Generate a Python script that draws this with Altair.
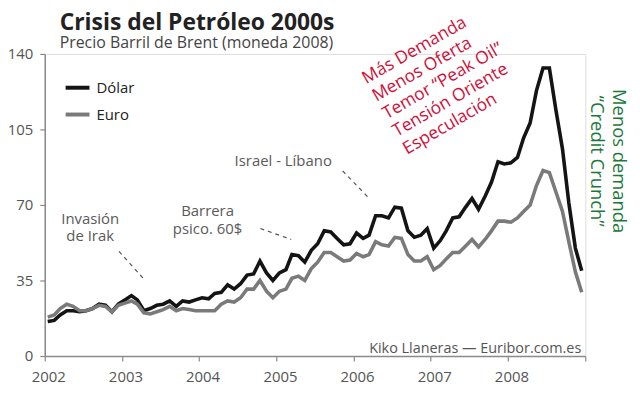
import altair as alt
import pandas as pd

FONT = "Open Sans"

title_text = ["Crisis del Petróleo 2000s"]
subtitle_text = ["Precio Barril de Brent (moneda 2008)"]

years = list(range(2002, 2009))
dolar = [
    16, 16.5, 19, 21, 21, 20.5, 21, 22, 24, 23.5, 20.5, 24,
    26, 28, 26, 21, 22, 23.5, 24, 25.5, 23, 25.5, 25, 26,
    27, 26.5, 29, 29.5, 33, 31, 33.5, 37.5, 38, 44, 38.5, 35,
    38.5, 40, 47, 46.5, 43.5, 49, 52, 58, 57.5, 54.5, 51.5, 52,
    57, 54.5, 56, 65, 65, 64, 69, 68.5, 58, 55, 56, 59,
    50, 53.5, 58, 64, 64.5, 69, 73, 68, 74, 80.5, 90, 89,
    89.5, 92, 101, 108, 123, 133.5, 133.5, 114, 96, 71, 50, 39.5,
]
euro = [
    18, 19, 22, 24, 23, 21, 21, 22, 23.5, 23, 20.5, 23.5,
    24.5, 25.5, 24, 20, 19.5, 20.5, 21.5, 23, 21, 22, 21.5, 21,
    21, 21, 21, 24, 25.5, 25, 27, 31, 31, 35, 30, 27,
    30, 31, 36, 37, 35, 40.5, 43.5, 48, 48, 46, 44, 44.5,
    47.5, 46, 47, 53, 51.5, 51, 55, 54.5, 47, 44, 44, 46,
    40, 42, 45, 48, 48, 51, 54, 50.5, 54, 58, 62.5, 62.5,
    62, 64, 67, 70, 79, 86, 85, 76, 67, 53, 39, 29.5,
]
series_names = ["Dólar", "Euro"]
series_colors = ["#141414", "#7a7a7a"]

dates = [f"{y}-{m:02d}-15" for y in years for m in range(1, 13)]
df = pd.DataFrame({
    "fecha": dates * 2,
    "precio": dolar + euro,
    "serie": [series_names[0]] * len(dolar) + [series_names[1]] * len(euro),
})

tick_dates = [f"{y}-{m:02d}-01" for y in range(2002, 2009) for m in (1, 4, 7, 10)] + ["2009-01-01"]
y_ticks = [0, 35, 70, 105, 140]

# annotations (grey)
notes = pd.DataFrame({
    "fecha": ["2002-08-04", "2004-02-10", "2005-02-02"],
    "precio": [61.3, 64.8, 88.2],
    "texto": [["Invasión", "de Irak"], ["Barrera", "psico. 60$"], ["Israel - Líbano"]],
})
dashes = pd.DataFrame({
    "f1": ["2002-12-18", "2004-10-17", "2005-11-10"],
    "p1": [48.5, 59.1, 85.8],
    "f2": ["2003-04-20", "2005-03-12", "2006-03-17"],
    "p2": [35.1, 54.0, 72.9],
})
red_note = pd.DataFrame({
    "fecha": ["2006-03-02"], "precio": [126.0],
    "texto": [["Más Demanda", "Menos Oferta", "Temor “Peak Oil”", "Tensión Oriente", "Especulación"]],
})
green_note = pd.DataFrame({
    "fecha": ["2009-05-12"], "precio": [90.3],
    "texto": [["Menos demanda", "“Credit Crunch”"]],
})
credit = pd.DataFrame({"fecha": ["2008-12-13"], "precio": [1.5],
                       "texto": ["Kiko Llaneras — Euribor.com.es"]})

xscale = alt.Scale(domain=["2002-01-01", "2009-01-01"])
yscale = alt.Scale(domain=[0, 140])

base_x = alt.X("fecha:T", scale=xscale, axis=alt.Axis(
    values=tick_dates, title=None, grid=False,
    labelExpr="month(datum.value) == 0 && year(datum.value) < 2009 ? timeFormat(datum.value, '%Y') : ''",
    labelFontSize=15, labelColor="#555555", labelFont=FONT, labelOffset=3.5,
    labelPadding=9, tickSize=5, tickColor="#8a8a8a", domainColor="#8a8a8a",
    domainWidth=1.5, tickWidth=1.2, labelFlush=False, labelOverlap=False,
))
base_y = alt.Y("precio:Q", scale=yscale, axis=alt.Axis(
    values=y_ticks, title=None, grid=False,
    labelFontSize=15, labelColor="#555555", labelFont=FONT, labelPadding=7,
    tickSize=5, tickColor="#8a8a8a", domainColor="#8a8a8a", domainWidth=1.5,
    tickWidth=1.2, labelFlush=False,
))

lines = alt.Chart(df).mark_line(strokeWidth=3.6, strokeJoin="miter", clip=False).encode(
    x=base_x, y=base_y,
    color=alt.Color("serie:N", scale=alt.Scale(domain=series_names, range=series_colors),
                    legend=alt.Legend(title=None, orient="none", legendX=19, legendY=20,
                                      symbolType="stroke", symbolStrokeWidth=4, symbolSize=576,
                                      labelFontSize=15, labelFont=FONT, labelColor="#222222",
                                      rowPadding=5, labelOffset=5)),
    order=alt.Order("fecha:T"),
)

note_text = alt.Chart(notes).mark_text(
    font=FONT, fontSize=15, color="#5a5a5a", align="center", baseline="alphabetic", lineHeight=17.5
).encode(x="fecha:T", y="precio:Q", text="texto")

dash_rules = alt.Chart(dashes).mark_rule(strokeDash=[4, 4], color="#555555", strokeWidth=1.2).encode(
    x="f1:T", y="p1:Q", x2="f2:T", y2="p2:Q")

red_text = alt.Chart(red_note).mark_text(
    font=FONT, fontSize=17.5, color="#d0103a", align="left", baseline="alphabetic",
    angle=330, lineHeight=20.5
).encode(x="fecha:T", y="precio:Q", text="texto")

green_text = alt.Chart(green_note).mark_text(
    font=FONT, fontSize=18.5, color="#1b7a3a", align="center", baseline="alphabetic",
    angle=90, lineHeight=22
).encode(x="fecha:T", y="precio:Q", text="texto")

credit_text = alt.Chart(credit).mark_text(
    font=FONT, fontSize=14.5, color="#555555", align="right", baseline="alphabetic"
).encode(x="fecha:T", y="precio:Q", text="texto")

title_mark = alt.Chart(pd.DataFrame({"t": title_text})).mark_text(
    font=FONT, fontSize=23, fontWeight="bold", color="#222222", align="left", baseline="alphabetic"
).encode(x=alt.value(15), y=alt.value(-24), text="t:N")

subtitle_mark = alt.Chart(pd.DataFrame({"t": subtitle_text})).mark_text(
    font=FONT, fontSize=16, color="#444444", align="left", baseline="alphabetic"
).encode(x=alt.value(15), y=alt.value(-6), text="t:N")

chart = alt.layer(lines, dash_rules, note_text, red_text, green_text, credit_text,
                  title_mark, subtitle_mark).properties(
    width=544, height=304,
    autosize=alt.AutoSizeParams(type="none"),
    padding={"left": 37, "top": 45, "right": 47, "bottom": 33},
).configure_view(stroke=None).configure(background="white")

chart.save("out.html", embed_options={"renderer": "svg", "actions": False})
